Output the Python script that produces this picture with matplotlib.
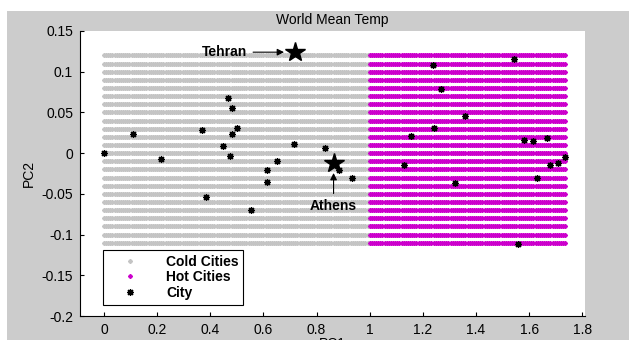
import numpy as np
import matplotlib.pyplot as plt
from matplotlib.patches import Rectangle

plt.rcParams['font.family'] = ['Liberation Sans', 'DejaVu Sans']

# grid of classified points (rows of PC2 values, PC1 span per class)
grid_rows = [0.12, 0.11, 0.10, 0.09, 0.08, 0.07, 0.06, 0.05, 0.04, 0.03, 0.02, 0.01,
             0.0, -0.01, -0.02, -0.03, -0.04, -0.05, -0.06, -0.07, -0.08, -0.09, -0.10, -0.11]
cold_span = (0.0, 1.0)
hot_span = (1.0, 1.74)
grid_step = 0.008

# cities
city_x = [0.0, 0.108, 0.214, 0.369, 0.385, 0.449, 0.468, 0.474, 0.483, 0.483, 0.50,
          0.555, 0.614, 0.614, 0.653, 0.716, 0.831, 0.885, 0.932,
          1.541, 1.237, 1.267, 1.36, 1.240, 1.157, 1.582, 1.615, 1.667, 1.733,
          1.708, 1.680, 1.129, 1.628, 1.321, 1.557]
city_y = [0.0, 0.024, -0.007, 0.028, -0.054, 0.009, 0.068, -0.004, 0.056, 0.023, 0.031,
          -0.070, -0.021, -0.036, -0.010, 0.011, 0.006, -0.021, -0.030,
          0.116, 0.108, 0.079, 0.045, 0.031, 0.021, 0.016, 0.015, 0.018, -0.005,
          -0.012, -0.014, -0.014, -0.030, -0.037, -0.111]

star_names = ['Tehran', 'Athens']
star_x = [0.718, 0.864]
star_y = [0.124, -0.012]

asterisk = (8, 2, 0)

fig = plt.figure(figsize=(6.29, 3.40), dpi=100, facecolor='white')
bg = Rectangle((7 / 629, 0), 1, 1 - 11 / 340, transform=fig.transFigure,
               facecolor='#cccccc', edgecolor='none', zorder=-10)
fig.add_artist(bg)
ax = fig.add_axes([80 / 629, 24 / 340, 505 / 629, 285 / 340])

cold_xs = np.arange(cold_span[0], cold_span[1] + 1e-9, grid_step)
hot_xs = np.arange(hot_span[0], hot_span[1] + 1e-9, grid_step)
gx, gy = np.meshgrid(cold_xs, grid_rows)
ax.plot(gx.ravel(), gy.ravel(), linestyle='none', marker=asterisk, markersize=3.2,
        markeredgewidth=0.8, color='#c4c4c4', label='Cold Cities', zorder=1)
hx, hy = np.meshgrid(hot_xs, grid_rows)
ax.plot(hx.ravel(), hy.ravel(), linestyle='none', marker=asterisk, markersize=3.2,
        markeredgewidth=0.8, color='#cc00cc', label='Hot Cities', zorder=1)
ax.plot(city_x, city_y, linestyle='none', marker=asterisk, markersize=5,
        markeredgewidth=0.9, color='black', label='City', zorder=3)
ax.plot(star_x, star_y, linestyle='none', marker='*', markersize=15,
        color='black', zorder=4)

ax.annotate(star_names[0], xy=(star_x[0] - 0.03, star_y[0]), xytext=(0.37, star_y[0]),
            fontsize=10, fontweight='bold', va='center', ha='left',
            arrowprops=dict(arrowstyle='-|>', color='black', lw=0.8))
ax.annotate(star_names[1], xy=(star_x[1], star_y[1] - 0.009), xytext=(star_x[1], -0.065),
            fontsize=10, fontweight='bold', va='center', ha='center',
            arrowprops=dict(arrowstyle='-|>', color='black', lw=0.8))

ax.set_xlim(-0.09, 1.81)
ax.set_ylim(-0.2, 0.15)
ax.set_xticks([0, 0.2, 0.4, 0.6, 0.8, 1, 1.2, 1.4, 1.6, 1.8])
ax.set_xticklabels(['0', '0.2', '0.4', '0.6', '0.8', '1', '1.2', '1.4', '1.6', '1.8'])
ax.set_yticks([-0.2, -0.15, -0.1, -0.05, 0, 0.05, 0.1, 0.15])
ax.set_yticklabels(['-0.2', '-0.15', '-0.1', '-0.05', '0', '0.05', '0.1', '0.15'])
ax.tick_params(direction='in', length=3, labelsize=10, colors='black', pad=5)
for s in ['top', 'right']:
    ax.spines[s].set_visible(False)
ax.set_title('World Mean Temp', fontsize=10, pad=5)
ax.set_xlabel('PC1', fontsize=10, labelpad=0)
ax.set_ylabel('PC2', fontsize=10, labelpad=4)

leg = ax.legend(loc='lower left', bbox_to_anchor=(0.045, 0.04),
                prop={'weight': 'bold', 'size': 10}, fancybox=False, framealpha=1,
                edgecolor='black', markerscale=1.0, handlelength=3.2, borderpad=0.35,
                labelspacing=0.1, handletextpad=1.0, borderaxespad=0)
leg.get_frame().set_linewidth(0.8)

fig.savefig('out.png', dpi=100, facecolor=fig.get_facecolor())
